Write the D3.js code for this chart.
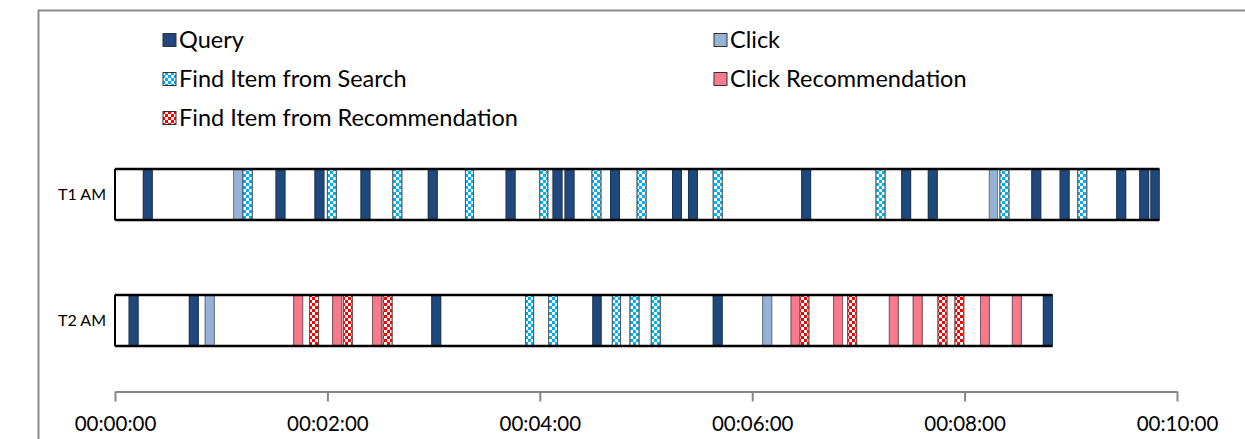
<!DOCTYPE html>
<html><head><meta charset="utf-8">
<script src="https://cdn.jsdelivr.net/npm/d3@7"></script>
<style>html,body{margin:0;padding:0;background:#fff;}svg{display:block;}</style>
</head><body>
<svg id="chart" width="1245" height="439"></svg>
<script>
// ---- data (seconds) ----
const rows = ["T1 AM", "T2 AM"];
const eventTypes = ["Query", "Click", "Find Item from Search", "Click Recommendation", "Find Item from Recommendation"];
const typeCodes = ["Q", "C", "FS", "CR", "FR"];
const tickSeconds = [0, 120, 240, 360, 480, 600];

const t1Types = ["Q","C","FS","Q","Q","FS","Q","FS","Q","FS","Q","FS","Q","Q","FS","Q","FS","Q","Q","FS","Q","FS","Q","Q","C","FS","Q","Q","FS","Q","Q","Q"];
const t1Start = [16,67,72.3,91,113,120,139,157,177,198,221,240,247.5,254.3,269.5,280,295,315,324,338,388,430,444.5,459.5,494,500,518,534,544,566,579,585.3];
const t1End   = [21,72,77.5,96,118,125,144,162,182,202.5,226,244.5,252.5,259.3,274.5,285,300,320,329,343,393,435,449.5,464.5,498.6,505,523,539,549,571,584,590];

const t2Types = ["Q","Q","C","CR","FR","CR","FR","CR","FR","Q","FS","FS","Q","FS","FS","FS","Q","C","CR","FR","CR","FR","CR","CR","FR","FR","CR","CR","Q"];
const t2Start = [8,42,51,101,110,123,129,145.5,151.5,179,232,245,270,281,291,303,338,366,382,387,406,414,437.5,451,465,474.6,489,507,524.5];
const t2End   = [13,47,56,106,115,128,134,150.5,156.5,184,236.5,250,274.6,285.6,296,308,343,371,387,392,411,419,442.5,456,470,479.5,494,512,529.6];

// ---- layout ----
const svg = d3.select("#chart");
const fontFam = "Lato, 'Liberation Sans', sans-serif";
const x = d3.scaleLinear().domain([0, 600]).range([115, 1177]);
const y = d3.scaleBand().domain(rows).range([156.4, 358.6]).paddingInner(0.595).paddingOuter(0.1);

const colors = {Q: "#1F497D", C: "#95B3D7", FS: "url(#patFS)", CR: "#F87A8C", FR: "url(#patFR)"};
const strokes = {Q: "#17365D", C: "#6f7f95", FS: "#4a5a66", CR: "#8c5a62", FR: "#7a4040"};

// patterns
const defs = svg.append("defs");
function checker(id, col) {
  const p = defs.append("pattern").attr("id", id).attr("patternUnits", "userSpaceOnUse")
    .attr("width", 6).attr("height", 6);
  p.append("rect").attr("width", 6).attr("height", 6).attr("fill", col);
  p.append("rect").attr("x", 0).attr("y", 0).attr("width", 3).attr("height", 3).attr("fill", "#fff");
  p.append("rect").attr("x", 3).attr("y", 3).attr("width", 3).attr("height", 3).attr("fill", "#fff");
}
checker("patFS", "#00B0F0");
checker("patFR", "#FF0000");

// frame
svg.append("path").attr("d", "M38.5,450 L38.5,10.5 L1250,10.5")
  .attr("fill", "none").attr("stroke", "#8a8a8a").attr("stroke-width", 2);

// legend
const legendPos = [[163, 40], [714, 40], [163, 79], [714, 79], [163, 118]];
const leg = svg.append("g");
eventTypes.forEach((name, i) => {
  const [lx, ly] = legendPos[i];
  const code = typeCodes[i];
  leg.append("rect").attr("x", lx).attr("y", ly - 6.5).attr("width", 13).attr("height", 13)
    .attr("fill", colors[code]).attr("stroke", "#333").attr("stroke-width", 1);
  leg.append("text").attr("x", lx + 16).attr("y", ly).attr("dy", "0.35em")
    .attr("font-family", fontFam).attr("font-size", 23.5).attr("fill", "#000").text(name);
});

// rows
const series = [
  {row: rows[0], types: t1Types, start: t1Start, end: t1End},
  {row: rows[1], types: t2Types, start: t2Start, end: t2End}
];
series.forEach(s => {
  const g = svg.append("g");
  const y0 = y(s.row), h = y.bandwidth();
  const total = d3.max(s.end);
  let prev = 0;
  const gaps = [];
  s.start.forEach((st, i) => { if (st > prev) gaps.push([prev, st]); prev = Math.max(prev, s.end[i]); });
  g.selectAll("rect.gap").data(gaps).join("rect").attr("class", "gap")
    .attr("x", d => x(d[0])).attr("y", y0).attr("width", d => x(d[1]) - x(d[0])).attr("height", h)
    .attr("fill", "#fff").attr("stroke", "#444").attr("stroke-width", 1);
  const ev = s.types.map((t, i) => ({t, a: s.start[i], b: s.end[i]}));
  g.selectAll("rect.ev").data(ev).join("rect").attr("class", "ev")
    .attr("x", d => x(d.a)).attr("y", y0).attr("width", d => x(d.b) - x(d.a)).attr("height", h)
    .attr("fill", d => colors[d.t]).attr("stroke", d => strokes[d.t]).attr("stroke-width", 1);
  g.append("line").attr("x1", x(0)).attr("x2", x(total)).attr("y1", y0).attr("y2", y0)
    .attr("stroke", "#000").attr("stroke-width", 2.5);
  g.append("line").attr("x1", x(0)).attr("x2", x(total)).attr("y1", y0 + h).attr("y2", y0 + h)
    .attr("stroke", "#000").attr("stroke-width", 2.5);
  g.append("line").attr("x1", x(0)).attr("x2", x(0)).attr("y1", y0).attr("y2", y0 + h)
    .attr("stroke", "#000").attr("stroke-width", 2);
  svg.append("text").attr("x", 106).attr("y", y0 + h / 2).attr("dy", "0.35em").attr("text-anchor", "end")
    .attr("font-family", fontFam).attr("font-size", 16).attr("fill", "#000").text(s.row);
});

// axis
const fmt = s => {
  const hh = Math.floor(s / 3600), mm = Math.floor((s % 3600) / 60), ss = s % 60;
  return [hh, mm, ss].map(v => String(v).padStart(2, "0")).join(":");
};
const axis = d3.axisBottom(x).tickValues(tickSeconds).tickFormat(fmt).tickSizeInner(10).tickSizeOuter(0).tickPadding(15);
const ag = svg.append("g").attr("transform", "translate(0,391.5)").call(axis);
ag.select(".domain").attr("stroke", "#868686").attr("stroke-width", 2);
ag.selectAll(".tick line").attr("stroke", "#868686").attr("stroke-width", 2);
ag.selectAll(".tick text").attr("font-family", fontFam).attr("font-size", 20.5).attr("fill", "#000");
</script>
</body></html>
